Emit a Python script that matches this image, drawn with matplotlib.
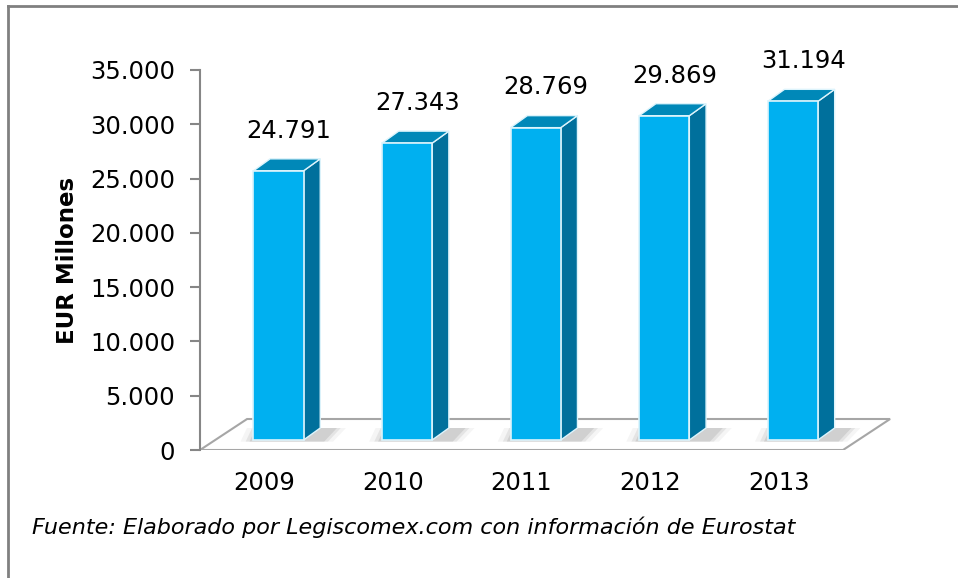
import matplotlib.pyplot as plt
from matplotlib.patches import Polygon
from matplotlib.lines import Line2D

# Datos
anios = ['2009', '2010', '2011', '2012', '2013']
valores = [24791, 27343, 28769, 29869, 31194]
etiquetas = ['24.791', '27.343', '28.769', '29.869', '31.194']
yticks = [0, 5000, 10000, 15000, 20000, 25000, 30000, 35000]

# Colores estilo Excel 3D
c_frente = '#00B0F0'
c_lado = '#00709C'
c_techo = '#0088B8'
c_borde = '#DDF4FC'

fig = plt.figure(figsize=(9.58, 5.78), dpi=100)
ax = fig.add_axes([200 / 958, 128 / 578, 700 / 958, 410 / 578])
ax.set_xlim(-0.5, 4.943)
ax.set_ylim(0, 37763)

# Profundidad del "piso" y de las barras (en unidades de datos)
piso_dx, piso_dy = 0.366, 2855
base = 921          # las barras se apoyan un poco detras del borde frontal
desp_x = 0.11
ancho = 0.39
prof_dx, prof_dy = 0.13, 1105

# Piso
piso = Polygon([(-0.5, 0), (4.5, 0), (4.5 + piso_dx, piso_dy), (-0.5 + piso_dx, piso_dy)],
               closed=True, facecolor='white', edgecolor='#A6A6A6', lw=1.5, zorder=1)
ax.add_patch(piso)

x = [i + desp_x for i in range(len(anios))]

# Sombras suaves en el piso
for xi in x:
    for k, a in [(0.10, 0.08), (0.06, 0.14), (0.03, 0.2)]:
        sombra = Polygon([(xi - ancho / 2 - k, base - 150), (xi + ancho / 2 + prof_dx + k, base - 150),
                          (xi + ancho / 2 + prof_dx + 0.1 + k, base + prof_dy),
                          (xi - ancho / 2 + 0.05 - k, base + prof_dy)],
                         closed=True, facecolor='gray', edgecolor='none', alpha=a, zorder=2)
        ax.add_patch(sombra)

# Caras frontales
ax.bar(x, valores, width=ancho, bottom=base, color=c_frente, edgecolor=c_borde, lw=1.2, zorder=4)

# Caras laterales y superiores
for xi, v in zip(x, valores):
    xl, xr = xi - ancho / 2, xi + ancho / 2
    top = base + v
    lado = Polygon([(xr, base), (xr, top), (xr + prof_dx, top + prof_dy), (xr + prof_dx, base + prof_dy)],
                   closed=True, facecolor=c_lado, edgecolor=c_borde, lw=1.0, zorder=3)
    techo = Polygon([(xl, top), (xr, top), (xr + prof_dx, top + prof_dy), (xl + prof_dx, top + prof_dy)],
                    closed=True, facecolor=c_techo, edgecolor=c_borde, lw=1.0, zorder=3)
    ax.add_patch(lado)
    ax.add_patch(techo)

# Etiquetas de valor
for xi, v, t in zip(x, valores, etiquetas):
    ax.text(xi + 0.08, base + v + 3700, t, ha='center', va='center', fontsize=17.5, color='black')

# Ejes
for s in ['top', 'right', 'bottom']:
    ax.spines[s].set_visible(False)
ax.spines['left'].set_bounds(0, 35000)
ax.spines['left'].set_color('#868686')
ax.spines['left'].set_linewidth(1.5)
ax.set_yticks(yticks)
ax.set_yticklabels([f'{v:,}'.replace(',', '.') for v in yticks])
ax.tick_params(axis='y', direction='out', length=7, width=1.5, color='#868686', labelsize=17.5, pad=11)
ax.set_xticks(range(len(anios)))
ax.set_xticklabels(anios)
ax.tick_params(axis='x', length=0, labelsize=17.5, pad=15)

fig.text(68 / 958, 1 - 260 / 578, 'EUR Millones', rotation=90, ha='center', va='center',
         fontsize=16.5, fontweight='bold')
fig.text(32 / 958, 1 - 527 / 578, 'Fuente: Elaborado por Legiscomex.com con información de Eurostat',
         ha='left', va='center', fontsize=16, style='italic')

# Marco exterior
fig.add_artist(Line2D([8 / 958, 1], [1 - 6 / 578, 1 - 6 / 578], color='#808080', lw=2))
fig.add_artist(Line2D([8 / 958, 8 / 958], [0, 1 - 6 / 578], color='#808080', lw=2))

fig.savefig('out.png', dpi=100)
